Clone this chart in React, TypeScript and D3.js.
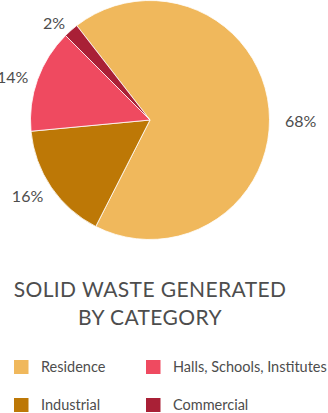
import React from "react";
import * as d3 from "d3";

const categories = ["Residence", "Industrial", "Halls, Schools, Institutes", "Commercial"];
const values = [68, 16, 14, 2];
const colors = ["#F0B85C", "#BD7806", "#EF4A60", "#A92036"];
const titleLines = ["SOLID WASTE GENERATED", "BY CATEGORY"];
const legendOrder = [0, 2, 1, 3];

const W = 328;
const H = 413;
const cx = 150;
const cy = 120;
const R = 119.5;
const startDeg = -37.8;
const textColor = "#4d4d4d";
const font = "Lato, 'Open Sans', sans-serif";

export default function App() {
  const pie = d3
    .pie<number>()
    .sort(null)
    .value((d) => d)
    .startAngle((startDeg * Math.PI) / 180)
    .endAngle((startDeg * Math.PI) / 180 + 2 * Math.PI);
  const arcs = pie(values);
  const arc = d3.arc<d3.PieArcDatum<number>>().innerRadius(0).outerRadius(R);
  const L = R + 12;

  return (
    <svg
      width={W}
      height={H}
      style={{ position: "absolute", left: 0, top: 0, background: "#fff" }}
      fontFamily={font}
    >
      <g transform={`translate(${cx},${cy})`}>
        {arcs.map((a, i) => (
          <path key={i} d={arc(a) || ""} fill={colors[i]} stroke="#fff" strokeWidth={0.8} />
        ))}
        {arcs.map((a, i) => {
          const mid = (a.startAngle + a.endAngle) / 2;
          const s = Math.sin(mid);
          const x = L * s;
          const y = -L * Math.cos(mid);
          return (
            <text
              key={i}
              x={s >= 0 ? x + 4 : x + 2}
              y={s >= 0 ? y + 14 : y + 2}
              dy="0.35em"
              textAnchor={s >= 0 ? "start" : "end"}
              fontSize={16}
              fill={textColor}
            >
              {values[i]}%
            </text>
          );
        })}
      </g>
      {titleLines.map((t, i) => (
        <text
          key={i}
          x={150}
          y={297 + i * 28}
          textAnchor="middle"
          fontSize={21}
          letterSpacing={0.4}
          fill={textColor}
        >
          {t}
        </text>
      ))}
      {legendOrder.map((ci, k) => {
        const col = k % 2;
        const row = Math.floor(k / 2);
        const x = 14 + col * 132;
        const y = 360 + row * 38;
        return (
          <g key={ci}>
            <rect x={x} y={y} width={14.5} height={14} fill={colors[ci]} />
            <text x={x + 27} y={y + 7} dy="0.35em" fontSize={14.5} fill={textColor}>
              {categories[ci]}
            </text>
          </g>
        );
      })}
    </svg>
  );
}
